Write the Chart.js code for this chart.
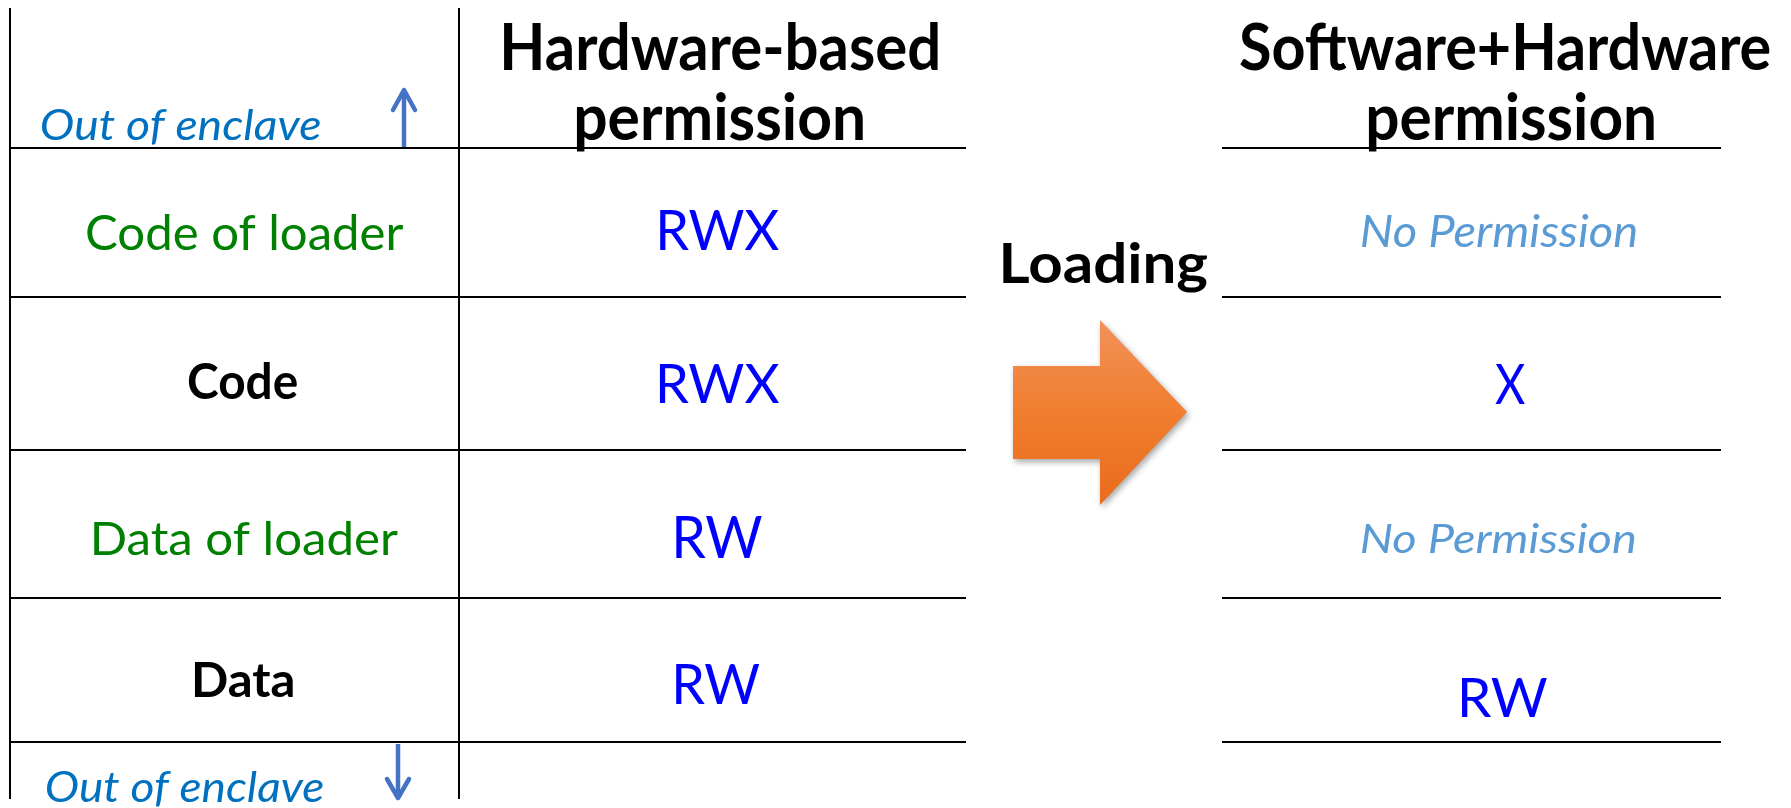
<!DOCTYPE html>
<html>
<head>
<meta charset="utf-8">
<script src="https://cdn.jsdelivr.net/npm/chart.js@4.4.1/dist/chart.umd.min.js"></script>
<style>
  html, body { margin: 0; padding: 0; background: #ffffff; overflow: hidden; }
  #wrap { width: 1791px; height: 808px; }
</style>
</head>
<body>
<div id="wrap"><canvas id="c" width="1791" height="808"></canvas></div>
<script>
// ---------------- data (text content of the diagram) ----------------
const rowLabels   = ['Code of loader', 'Code', 'Data of loader', 'Data'];
const hwPerms     = ['RWX', 'RWX', 'RW', 'RW'];
const swhwPerms   = ['No Permission', 'X', 'No Permission', 'RW'];
const hwHeader    = ['Hardware-based', 'permission'];
const swhwHeader  = ['Software+Hardware', 'permission'];
const outsideText = 'Out of enclave';
const actionText  = 'Loading';

// ---------------- layout (diagram units = canvas px, 1791 x 808) ----------------
const W = 1791, H = 808;
const layout = {
  rowLinesY: [148, 297, 450, 598, 742],
  leftSpan:  [11, 966],
  rightSpan: [1222, 1721],
  vLinesX:   [10, 459],
  vSpan:     [8, 799],
  // ink boxes: [left, right, capTop, baseline]
  rowLabelBoxes: [[87, 404, 215, 250], [188, 297, 363, 399], [94, 398, 521, 555], [194, 293, 662, 697]],
  hwBoxes:       [[660, 779, 209, 250], [660, 779, 363, 403], [676, 762, 516, 558], [676, 760, 663, 704]],
  swhwBoxes:     [[1362, 1636, 216, 247], [1495, 1525, 363, 404], [1362, 1635, 524, 553], [1462, 1547, 677, 717]],
  hwHeaderBoxes:   [[504, 938, 23, 70], [576, 863, 93, 140]],
  swhwHeaderBoxes: [[1240, 1770, 23, 70], [1368, 1654, 93, 140]],
  outTopBox:    [42, 320, 110, 140],
  outBottomBox: [47, 323, 772, 802],
  actionBox:    [1003, 1207, 243, 283],
  upArrow:   { x: 404, y0: 149, y1: 90, head: 11, headLen: 20 },
  downArrow: { x: 398, y0: 744, y1: 798, head: 11, headLen: 19 },
  bigArrow:  { x0: 1013, xNeck: 1100, xTip: 1187, bodyTop: 366, bodyBot: 459, headTop: 320, headBot: 505, tipY: 412 }
};
const styles = {
  font: 'Lato, "Open Sans", "Noto Sans", "Liberation Sans", sans-serif',
  loaderRow: { weight: 'normal', style: 'normal', color: '#008000' },
  plainRow:  { weight: 'bold',   style: 'normal', color: '#000000' },
  perm:      { weight: 'normal', style: 'normal', color: '#0000FF' },
  noPerm:    { weight: 'normal', style: 'italic', color: '#5B9BD5' },
  header:    { weight: 'bold',   style: 'normal', color: '#000000' },
  outside:   { weight: 'normal', style: 'italic', color: '#0070C0' },
  action:    { weight: 'bold',   style: 'normal', color: '#000000' },
  lineColor: '#000000',
  arrowBlue: '#4472C4'
};

// ---------------- datasets for the rules / small arrows ----------------
function seg(points, color, width) {
  return { data: points, showLine: true, borderColor: color, borderWidth: width,
           pointRadius: 0, fill: false, tension: 0, clip: false,
           borderCapStyle: 'butt', borderJoinStyle: 'miter' };
}
const datasets = [];
layout.rowLinesY.forEach(y => {
  datasets.push(seg([{x: layout.leftSpan[0], y}, {x: layout.leftSpan[1], y}], styles.lineColor, 2));
  datasets.push(seg([{x: layout.rightSpan[0], y}, {x: layout.rightSpan[1], y}], styles.lineColor, 2));
});
layout.vLinesX.forEach(x => {
  datasets.push(seg([{x, y: layout.vSpan[0]}, {x, y: layout.vSpan[1]}], styles.lineColor, 2));
});
[layout.upArrow, layout.downArrow].forEach(a => {
  const dir = Math.sign(a.y1 - a.y0);
  datasets.push(seg([{x: a.x, y: a.y0}, {x: a.x, y: a.y1 - dir * 2}], styles.arrowBlue, 4.5));
  const d = seg([{x: a.x - a.head, y: a.y1 - dir * a.headLen}, {x: a.x, y: a.y1}, {x: a.x + a.head, y: a.y1 - dir * a.headLen}], styles.arrowBlue, 4.5);
  d.borderCapStyle = 'round'; d.borderJoinStyle = 'round';
  datasets.push(d);
});

// ---------------- text + big arrow plugin ----------------
function fontStr(st, size) { return `${st.style} ${st.weight} ${size}px ${styles.font}`; }

const diagramPlugin = {
  id: 'diagram',
  beforeDatasetsDraw(chart) {
    const {ctx, scales: {x: xs, y: ys}} = chart;
    const a = layout.bigArrow;
    const P = (x, y) => [xs.getPixelForValue(x), ys.getPixelForValue(y)];
    const pts = [P(a.x0, a.bodyTop), P(a.xNeck, a.bodyTop), P(a.xNeck, a.headTop), P(a.xTip, a.tipY),
                 P(a.xNeck, a.headBot), P(a.xNeck, a.bodyBot), P(a.x0, a.bodyBot)];
    ctx.save();
    const g = ctx.createLinearGradient(0, ys.getPixelForValue(a.headTop), 0, ys.getPixelForValue(a.headBot));
    g.addColorStop(0, '#F2915A');
    g.addColorStop(0.5, '#F07E2E');
    g.addColorStop(1, '#E86C1C');
    ctx.shadowColor = 'rgba(0,0,0,0.35)';
    ctx.shadowBlur = 6;
    ctx.shadowOffsetX = 2;
    ctx.shadowOffsetY = 3;
    ctx.beginPath();
    pts.forEach((p, i) => i ? ctx.lineTo(p[0], p[1]) : ctx.moveTo(p[0], p[1]));
    ctx.closePath();
    ctx.fillStyle = g;
    ctx.fill();
    ctx.restore();
  },
  afterDatasetsDraw(chart) {
    const {ctx, scales: {x: xs, y: ys}} = chart;
    function drawBox(text, box, st, capRef) {
      const [l, r, top, base] = box;
      const L = xs.getPixelForValue(l), R = xs.getPixelForValue(r);
      const T = ys.getPixelForValue(top), B = ys.getPixelForValue(base);
      ctx.save();
      ctx.font = fontStr(st, 100);
      ctx.textAlign = 'left';
      ctx.textBaseline = 'alphabetic';
      const cap = ctx.measureText(capRef || 'H').actualBoundingBoxAscent;
      const size = (B - T) / cap * 100;
      ctx.font = fontStr(st, size);
      const m = ctx.measureText(text);
      const inkW = m.actualBoundingBoxLeft + m.actualBoundingBoxRight;
      const sx = (R - L) / inkW;
      ctx.translate(L + m.actualBoundingBoxLeft * sx, B);
      ctx.scale(sx, 1);
      ctx.fillStyle = st.color;
      ctx.fillText(text, 0, 0);
      ctx.restore();
    }
    rowLabels.forEach((t, i) => drawBox(t, layout.rowLabelBoxes[i], /loader/.test(t) ? styles.loaderRow : styles.plainRow));
    hwPerms.forEach((t, i) => drawBox(t, layout.hwBoxes[i], styles.perm));
    swhwPerms.forEach((t, i) => drawBox(t, layout.swhwBoxes[i], t.length > 3 ? styles.noPerm : styles.perm));
    hwHeader.forEach((t, i) => drawBox(t, layout.hwHeaderBoxes[i], styles.header));
    swhwHeader.forEach((t, i) => drawBox(t, layout.swhwHeaderBoxes[i], styles.header));
    drawBox(outsideText, layout.outTopBox, styles.outside);
    drawBox(outsideText, layout.outBottomBox, styles.outside);
    drawBox(actionText, layout.actionBox, styles.action);
  }
};

function build() {
  new Chart(document.getElementById('c'), {
    type: 'scatter',
    data: { datasets },
    options: {
      responsive: false,
      animation: false,
      events: [],
      layout: { padding: 0 },
      plugins: { legend: { display: false }, tooltip: { enabled: false }, title: { display: false } },
      scales: {
        x: { type: 'linear', min: 0, max: W, display: false },
        y: { type: 'linear', min: 0, max: H, reverse: true, display: false }
      }
    },
    plugins: [diagramPlugin]
  });
}
if (document.fonts && document.fonts.load) {
  Promise.all([
    document.fonts.load('bold 40px Lato'),
    document.fonts.load('italic 40px Lato'),
    document.fonts.load('40px Lato')
  ]).then(build, build);
} else { build(); }
</script>
</body>
</html>
